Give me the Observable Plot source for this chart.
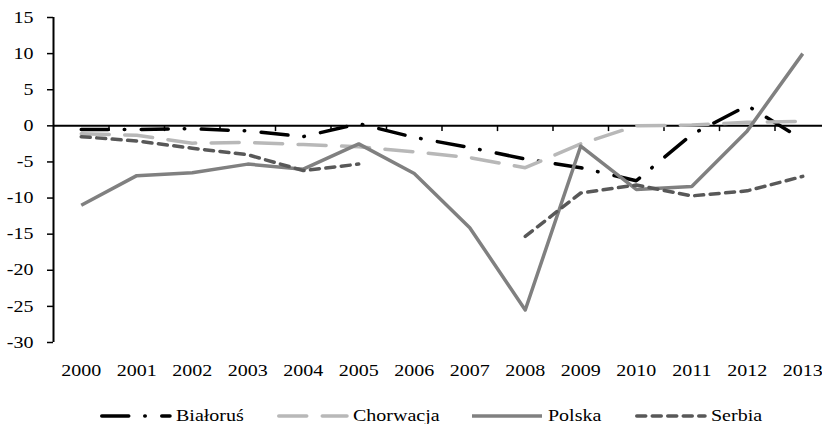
<!DOCTYPE html>
<html>
<head>
<meta charset="utf-8">
<script src="https://cdn.jsdelivr.net/npm/d3@7"></script>
<script src="https://cdn.jsdelivr.net/npm/@observablehq/plot@0.6"></script>
<style>
  html, body { margin: 0; padding: 0; background: #fff; overflow: hidden; }
  #chart svg { display: block; }
  #chart svg, #chart svg text { font-family: "Liberation Serif", serif !important; font-weight: normal !important; }
  #legend { position: relative; width: 822px; height: 39px; font-family: "Liberation Serif", serif; font-size: 16px; color: #000; }
  #legend svg { position: absolute; display: block; }
  #legend span { position: absolute; white-space: nowrap; transform-origin: 0 0; line-height: 16px; }
</style>
</head>
<body>
<div id="chart"></div>
<div id="legend"></div>
<script>
// ---- data ----
const years = [2000, 2001, 2002, 2003, 2004, 2005, 2006, 2007, 2008, 2009, 2010, 2011, 2012, 2013];
const bialorus  = [-0.5, -0.5, -0.4, -0.7, -1.5, 0.3, -1.6, -3.0, -4.6, -5.8, -7.6, -1.2, 2.8, -1.9];
const chorwacja = [-1.1, -1.3, -2.4, -2.3, -2.6, -2.9, -3.6, -4.4, -5.8, -2.5, 0.0, 0.1, 0.5, 0.6];
const polska    = [-11.0, -6.9, -6.5, -5.3, -6.0, -2.5, -6.6, -14.1, -25.5, -2.8, -8.8, -8.4, -0.7, 10.0];
const serbia    = [-1.5, -2.1, -3.1, -4.0, -6.2, -5.3, null, null, -15.3, -9.3, -8.2, -9.7, -9.0, -7.0];
const seriesNames = ["Białoruś", "Chorwacja", "Polska", "Serbia"];
const yTicks = [15, 10, 5, 0, -5, -10, -15, -20, -25, -30];

// ---- styles ----
const styles = {
  "Białoruś":  {stroke: "#000000", dash: "27,16,0.5,16.5"},
  "Chorwacja": {stroke: "#b8b8b8", dash: "28,15.5"},
  "Polska":    {stroke: "#808080", dash: null},
  "Serbia":    {stroke: "#585858", dash: "9,6.5"}
};
const seriesValues = [bialorus, chorwacja, polska, serbia];
const tables = seriesNames.map((name, k) =>
  years.map((yr, i) => ({year: yr, value: seriesValues[k][i] == null ? NaN : seriesValues[k][i], name}))
);
const boundaries = years.slice(1).map(y => y - 0.5);
const STRETCH = 1.25;

const lineMarks = seriesNames.map((name, k) => Plot.line(tables[k], {
  x: "year", y: "value",
  stroke: styles[name].stroke,
  strokeWidth: 3.5,
  strokeDasharray: styles[name].dash || undefined,
  strokeLinecap: styles[name].dash ? "round" : "butt",
  strokeLinejoin: "round"
}));

const chart = Plot.plot({
  width: 822,
  height: 385,
  marginTop: 17,
  marginBottom: 43,
  marginLeft: 53,
  marginRight: 0,
  style: {fontSize: "16px", color: "#000", background: "#fff", overflow: "visible"},
  x: {domain: [years[0] - 0.5, years[years.length - 1] + 0.5], range: [53, 830], label: null},
  y: {domain: [-30, 15], label: null},
  marks: [
    Plot.axisY({ticks: yTicks, tickSize: 6, tickPadding: 14, strokeWidth: 1.5, tickFormat: d => String(d), label: null}),
    Plot.axisX({ticks: years, tickSize: 0, tickPadding: 22, tickFormat: d => String(d), label: null}),
    Plot.ruleX([years[0] - 0.5], {y1: -30, y2: 15, stroke: "#000", strokeWidth: 2}),
    Plot.ruleX(boundaries, {y1: 0, y2: -0.8, stroke: "#000", strokeWidth: 1.5}),
    Plot.ruleY([0], {x1: years[0] - 0.5, x2: years[years.length - 1] + 0.5, stroke: "#000", strokeWidth: 2}),
    ...lineMarks
  ]
});
chart.setAttribute("font-family", "Liberation Serif");
chart.setAttribute("font-size", "16");
document.getElementById("chart").appendChild(chart);

chart.querySelectorAll("text").forEach(t => {
  t.setAttribute("font-family", "Liberation Serif");
  const L = t.getComputedTextLength();
  if (L > 0) {
    t.setAttribute("textLength", (L * STRETCH).toFixed(2));
    t.setAttribute("lengthAdjust", "spacingAndGlyphs");
  }
});

// ---- legend (HTML, below the chart) ----
const legend = d3.select("#legend");
let xPos = 100;
const sampleLen = 70, lineY = 30.7, textTop = 22.5;
seriesNames.forEach(name => {
  const st = styles[name];
  const s = legend.append("svg")
    .attr("width", sampleLen + 4).attr("height", 8)
    .style("left", xPos + "px").style("top", (lineY - 4) + "px");
  s.append("line")
    .attr("x1", st.dash ? 1.75 : 0).attr("x2", sampleLen)
    .attr("y1", 4).attr("y2", 4)
    .attr("stroke", st.stroke).attr("stroke-width", 3.5)
    .attr("stroke-dasharray", st.dash)
    .attr("stroke-linecap", st.dash ? "round" : "butt");
  const sp = legend.append("span").text(name)
    .style("left", (xPos + sampleLen + 6) + "px").style("top", textTop + "px")
    .style("transform", `scaleX(${STRETCH})`);
  const L = sp.node().getBoundingClientRect().width;
  xPos += sampleLen + 6 + L + 33;
});
</script>
</body>
</html>
